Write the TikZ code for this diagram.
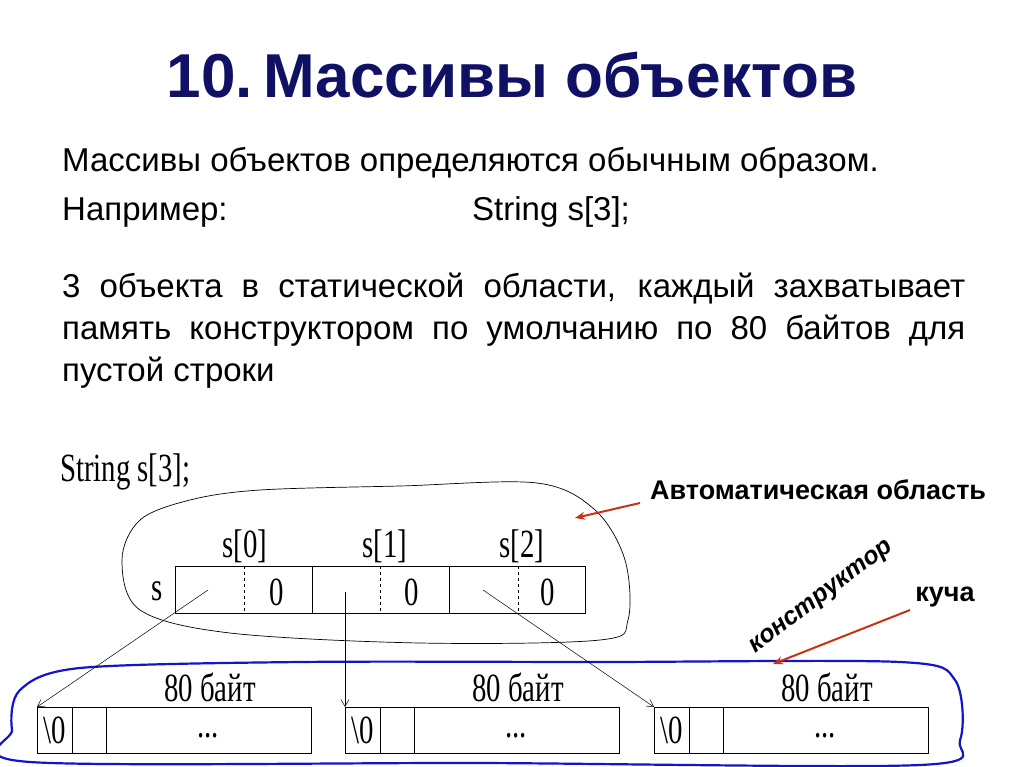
\documentclass[tikz,border=0pt]{standalone}
\usepackage{fontspec}
\setmainfont{Liberation Sans}
\newfontfamily\tms{Liberation Serif}
\usetikzlibrary{arrows.meta}
\definecolor{navy}{RGB}{16,16,100}
\definecolor{redarr}{RGB}{200,50,20}
\definecolor{blueline}{RGB}{20,20,200}
\tikzset{
  body/.style={anchor=base west,font=\fontsize{33}{42}\selectfont,inner sep=0},
  tm/.style={font=\tms\fontsize{40}{42}\selectfont,xscale=0.72,inner sep=0},
  cell/.style={draw,line width=0.6pt},
  ptr/.style={-{Straight Barb[length=7pt,width=8pt]},line width=0.5pt},
  redptr/.style={-{Stealth[length=10pt,width=8pt]},redarr,line width=2pt}
}
\begin{document}
\begin{tikzpicture}[x=1pt,y=-1pt]
\useasboundingbox (0,0) rectangle (1024,767);
\node[font=\bfseries\fontsize{62}{68}\selectfont,text=navy] (title) at (512,75) {10.\,Массивы объектов};
\node[body] (l1) at (62,172) {Массивы объектов определяются обычным образом.};
\node[body] (l2) at (62,221) {Например:};
\node[body] (l2b) at (472,221) {String s[3];};
\node[body,text width=903pt,align=justify,anchor=north west] (par) at (62,273) {3 объекта в статической области, каждый захватывает память конструктором по умолчанию по 80 байтов для пустой строки};
% diagram
\node[tm,anchor=west] (decl) at (60,472) {String s[3];};
\draw[line width=0.7pt] plot[smooth cycle,tension=0.55] coordinates {(122,560) (140,520) (190,500) (260,490) (400,486) (537,483) (595,510) (625,560) (628,620) (600,640) (420,643) (230,633) (140,610)};
\draw[blueline,line width=2.2pt] plot[smooth cycle,tension=0.5] coordinates {(20,690) (80,668) (300,662) (600,662) (900,662) (955,680) (960,740) (920,765) (480,763) (30,762) (12,730)};
% stack array
\draw[cell] (175,566) rectangle (585,613);
\draw[cell] (312,566) -- (312,613);
\draw[cell] (449,566) -- (449,613);
\draw[cell,dashed] (244,566) -- (244,613);
\draw[cell,dashed] (380,566) -- (380,613);
\draw[cell,dashed] (518,566) -- (518,613);
\node[tm] (sl) at (157,591) {s};
\node[tm] (s0) at (245,546) {s[0]};
\node[tm] (s1) at (385,546) {s[1]};
\node[tm] (s2) at (522,546) {s[2]};
\node[tm] (z0) at (277,592) {0};
\node[tm] (z1) at (412,592) {0};
\node[tm] (z2) at (548,592) {0};
\coordinate (p0) at (208,590);
\coordinate (p1) at (345,592);
\coordinate (p2) at (483,590);
% heap boxes
\foreach \i/\x in {1/37,2/345,3/654}{
  \draw[cell] (\x,707) rectangle ++(274,46);
  \draw[cell] (\x+35,707) -- (\x+35,753);
  \draw[cell] (\x+69,707) -- (\x+69,753);
  \coordinate (h\i) at (\x,707);
  \node[tm] (n\i) at (\x+18,730) {\textbackslash0};
  \node[tm] (d\i) at (\x+171,736) {...};
  \node[tm] (b\i) at (\x+173,687) {80 байт};
}
\draw[ptr] (p0) -- (h1);
\draw[ptr] (p1) -- (h2);
\draw[ptr] (p2) -- (h3);
% labels
\node[anchor=west,font=\bfseries\fontsize{27}{30}\selectfont,inner sep=0,xscale=1.0] (auto) at (650,490) {Автоматическая область};
\coordinate (autot) at (575,518);
\draw[redptr] (640,503) -- (autot);
\node[font=\bfseries\fontsize{27}{30}\selectfont,inner sep=0] (heap) at (945,597) {куча};
\coordinate (heapt) at (773,664);
\draw[redptr] (910,610) -- (heapt);
\node[font=\bfseries\itshape\fontsize{25}{27}\selectfont,inner sep=0,rotate=37] (ctor) at (822,598) {конструктор};
\end{tikzpicture}
\end{document}
